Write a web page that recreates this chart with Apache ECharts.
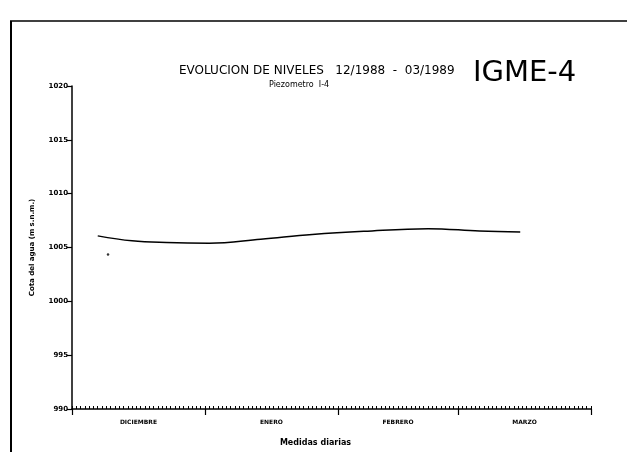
<!DOCTYPE html>
<html>
<head>
<meta charset="utf-8">
<script src="https://cdn.jsdelivr.net/npm/echarts@6/dist/echarts.min.js"></script>
<style>
  html, body { margin: 0; padding: 0; background: #fff; }
  #chart { width: 627px; height: 452px; }
</style>
</head>
<body>
<div id="chart"></div>
<script>
  // dias contados desde el 1 de diciembre de 1988
  const days = [6, 14, 22, 32, 44, 56, 68, 83, 95, 104.5]
  const levels = [1006.08, 1005.62, 1005.46, 1005.40, 1005.77, 1006.20, 1006.50, 1006.75, 1006.54, 1006.45]
  const strayDay = [8.4]
  const strayLevel = [1004.36]
  const months = ['DICIEMBRE', 'ENERO', 'FEBRERO', 'MARZO']
  const monthStart = [0, 31, 62, 90, 121]
  const yTicks = [990, 995, 1000, 1005, 1010, 1015, 1020]

  const monthMid = months.map((m, i) => (monthStart[i] + monthStart[i + 1]) / 2)
  const font = 'DejaVu Sans'

  const myChart = echarts.init(document.getElementById('chart'))
  const option = {
    backgroundColor: '#fff',
    animation: false,
    title: [{
      text: 'EVOLUCION DE NIVELES   12/1988  -  03/1989',
      left: 174,
      top: 60,
      textStyle: { fontFamily: font, fontSize: 12, fontWeight: 'normal', color: '#000' }
    }, {
      text: 'Piezometro  I-4',
      left: 264,
      top: 76,
      textStyle: { fontFamily: font, fontSize: 8, fontWeight: 'normal', color: '#000' }
    }, {
      text: 'IGME-4',
      left: 468,
      top: 54,
      textStyle: { fontFamily: font, fontSize: 29, fontWeight: 'normal', color: '#000' }
    }],
    grid: { left: 72, right: 36, top: 86, bottom: 40 },
    xAxis: [{
      type: 'value',
      min: 0,
      max: 121,
      name: 'Medidas diarias',
      nameLocation: 'middle',
      nameGap: 30,
      nameTextStyle: { fontFamily: font, fontSize: 8, fontWeight: 'bold', color: '#000', padding: [0, 32, 0, 0] },
      axisLine: { lineStyle: { color: '#000', width: 1.5 } },
      axisTick: { customValues: monthStart, length: 6, lineStyle: { color: '#000', width: 1.2 } },
      axisLabel: {
        customValues: monthMid,
        margin: 10,
        fontFamily: font,
        fontSize: 6,
        fontWeight: 'bold',
        color: '#000',
        formatter: v => months[monthMid.indexOf(v)] || ''
      },
      splitLine: { show: false }
    }, {
      type: 'value',
      min: 0,
      max: 121,
      interval: 1,
      position: 'bottom',
      axisLine: { show: false },
      axisTick: { inside: true, length: 3, lineStyle: { color: '#000', width: 1 } },
      axisLabel: { show: false },
      splitLine: { show: false }
    }],
    yAxis: {
      type: 'value',
      min: yTicks[0],
      max: yTicks[yTicks.length - 1],
      interval: 5,
      name: 'Cota del agua (m s.n.m.)',
      nameLocation: 'middle',
      nameGap: 36,
      nameTextStyle: { fontFamily: font, fontSize: 7, fontWeight: 'bold', color: '#000' },
      axisLine: { show: true, lineStyle: { color: '#000', width: 1.5 } },
      axisTick: { show: true, length: 5, lineStyle: { color: '#000', width: 1.2 } },
      axisLabel: {
        margin: 4, fontFamily: font, fontSize: 7, fontWeight: 'bold', color: '#000',
        formatter: v => String(v)
      },
      splitLine: { show: false }
    },
    graphic: [{
      type: 'line',
      shape: { x1: 10, y1: 21, x2: 627, y2: 21 },
      style: { stroke: '#000', lineWidth: 1.5 }
    }, {
      type: 'line',
      shape: { x1: 11, y1: 21, x2: 11, y2: 452 },
      style: { stroke: '#000', lineWidth: 2 }
    }],
    series: [{
      type: 'line',
      smooth: 0.4,
      showSymbol: false,
      lineStyle: { color: '#000', width: 1.5 },
      data: days.map((d, i) => [d, levels[i]])
    }, {
      type: 'scatter',
      symbolSize: 2.5,
      itemStyle: { color: '#000' },
      data: strayDay.map((d, i) => [d, strayLevel[i]])
    }]
  }
  myChart.setOption(option)
</script>
</body>
</html>
